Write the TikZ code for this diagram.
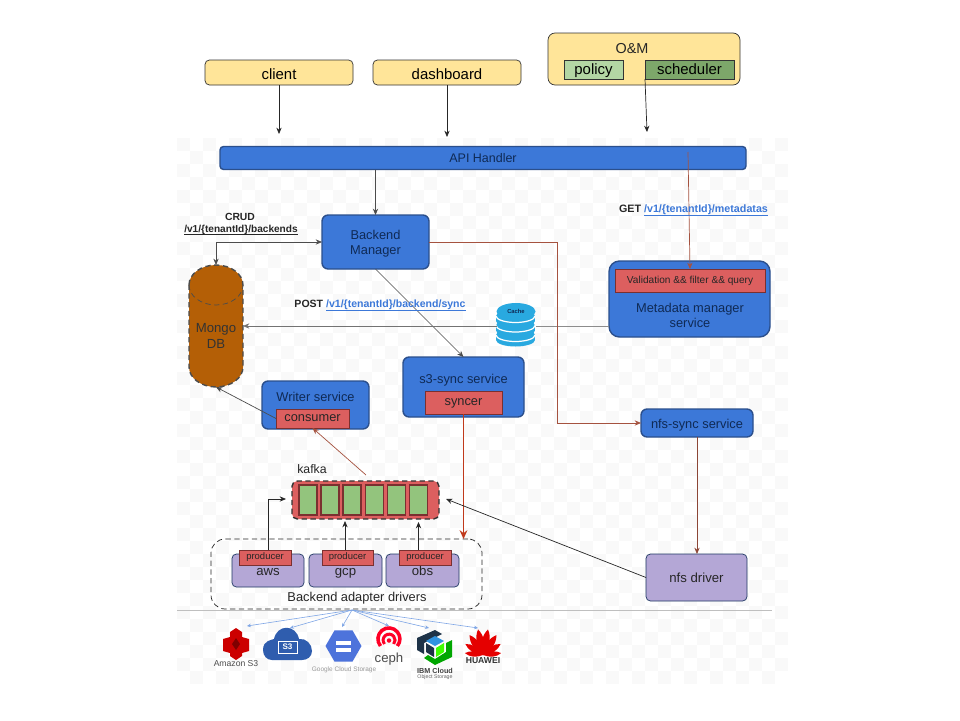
\documentclass[tikz,border=0pt]{standalone}
\usepackage{fontspec}
\setmainfont{Liberation Sans}
\usepackage{tikz}
\usetikzlibrary{calc,arrows.meta,shapes.geometric}
\definecolor{sv-blue}{HTML}{3C78D8}
\definecolor{sv-line}{HTML}{2B4F8C}
\definecolor{sv-ink}{HTML}{0F2A55}
\definecolor{sv-red}{HTML}{DC5F5F}
\definecolor{sv-redline}{HTML}{7A3030}
\definecolor{sv-flow}{HTML}{A5523F}
\definecolor{sv-thick}{HTML}{C0391B}
\definecolor{sv-purple}{HTML}{B4A7D6}
\definecolor{sv-yellow}{HTML}{FFE599}
\definecolor{sv-green}{HTML}{93C47D}
\definecolor{sv-brown}{HTML}{B45F06}
\definecolor{sv-link}{HTML}{3C78D8}
\definecolor{sv-sky}{HTML}{29A9E0}
\definecolor{sv-cloud}{HTML}{2F5DAE}
\definecolor{sv-gcs}{HTML}{4D73DB}
\definecolor{sv-ibm}{HTML}{1E3348}
\newcommand{\pxfont}[1]{\fontsize{#1}{8.6}\selectfont}
\newcommand{\apilink}[1]{\textcolor{sv-link}{\underline{\smash{#1}}}}
\tikzset{
  sz/.style 2 args={minimum width=#1*0.02cm, minimum height=#2*0.02cm, inner sep=0pt, outer sep=0pt},
  bluebox/.style={draw=sv-line, fill=sv-blue, thick, rounded corners=3.5pt, text=sv-ink, align=center, font=\pxfont{7.3}},
  redbox/.style={draw=sv-redline, fill=sv-red, line width=.55pt, text=black!85, font=\pxfont{7.3}, text height=3.8pt, text depth=0pt},
  purplebox/.style={draw=sv-line!70!black, fill=sv-purple, rounded corners=2.5pt, text=black!85, font=\pxfont{7.5}},
  topbox/.style={draw=black!80, fill=sv-yellow, rounded corners=2.5pt, font=\pxfont{8.5}, text height=7.4pt, text depth=0pt},
  cell/.style={draw=sv-redline, fill=sv-green, line width=.6pt},
  lbl/.style={inner sep=0pt, text=black!85, align=center, font=\pxfont{7.3}},
  arr/.style={-{Stealth[length=3.6pt,width=3pt]}},
  flow/.style={arr, draw=black!70},
  redflow/.style={arr, draw=sv-flow},
  logoflow/.style={-{Stealth[length=2.2pt,width=2pt]}, draw=sv-link!65, line width=.35pt},
}

\begin{document}
\begin{tikzpicture}[x=0.02cm,y=-0.02cm]
    \path[use as bounding box, fill=white] (0,0) rectangle (960,720);
    % checker backdrop
    \foreach \i in {0,...,46}
      \foreach \j in {0,...,41} {
        \pgfmathtruncatemacro{\k}{mod(\i+\j,2)}
        \ifnum\k=0
          \fill[black!2.5] (177+13*\i,138+13*\j) rectangle (190+13*\i,151+13*\j);
        \fi
      }
    \draw[black!25] (177,610) -- (772,610);

    % top row
    \node[topbox, sz={148}{25}] (client) at (279,72.5) {client};
    \node[topbox, sz={148}{25}] (dashboard) at (447,72.5) {dashboard};
    \node[topbox, sz={192}{52}, rounded corners=4pt] (om) at (644,59) {};
    \node[lbl, font=\pxfont{8.2}] (omlabel) at (632,49) {O\&M};
    \node[topbox, sz={59}{19}, rounded corners=0pt, fill=sv-green!70, text height=6.2pt] (policy) at (593.5,69.5) {policy};
    \node[topbox, sz={89}{19}, rounded corners=0pt, fill=sv-green!85!black, text height=6.2pt] (scheduler) at (689.5,69.5) {scheduler};
    \coordinate (clientend) at (279,134);
    \coordinate (dashboardend) at (447,137);
    \coordinate (schedulerend) at (647,132);

    % services
    \node[bluebox, sz={526}{23}, rounded corners=2pt, font=\pxfont{7.1}] (api) at (483,158) {API Handler};
    \node[bluebox, sz={107}{54}] (backend) at (375.5,242) {};
    \node[lbl, text=sv-ink] (backendlabel) at (375.5,243.5) {Backend\\Manager};
    \filldraw[draw=black!70, densely dashed, thick, fill=sv-brown] (189,285) arc[start angle=180,end angle=0,x radius=.54cm,y radius=.4cm]
      -- (243,367) arc[start angle=0,end angle=-180,x radius=.54cm,y radius=.4cm] -- cycle;
    \draw[black!70, densely dashed] (189,285) arc[start angle=180,end angle=360,x radius=.54cm,y radius=.4cm];
    \node[sz={54}{122}, lbl, text=black!80, font=\pxfont{7.5}] (mongo) at (216,326) {};
    \node[lbl, text=black!80, font=\pxfont{7.5}] (mongolabel) at (216,336) {Mongo\\DB};
    \node[bluebox, sz={107}{48}] (writer) at (315.5,405) {};
    \node[lbl, text=sv-ink] (writerlabel) at (315.5,397) {Writer service};
    \node[redbox, sz={73}{19}] (consumer) at (312.5,418.5) {consumer};
    \node[bluebox, sz={121}{60}] (s3sync) at (463.5,387) {};
    \node[lbl, text=sv-ink] (s3label) at (463.5,380.5) {s3-sync service};
    \node[redbox, sz={77}{23}] (syncer) at (463.5,402.5) {syncer};
    \node[bluebox, sz={161}{76}, rounded corners=6pt] (metadata) at (689.5,299) {};
    \node[redbox, sz={150}{23}, font=\pxfont{5.75}, text height=3pt] (validation) at (690,280.5) {Validation \&\& filter \&\& query};
    \node[lbl, text=sv-ink] (metalabel) at (690,315) {Metadata manager\\service};
    \node[bluebox, sz={112}{28}, text height=6pt, text depth=0pt] (nfssync) at (697,423) {nfs-sync service};
    \node[purplebox, sz={101}{47}] (nfsdriver) at (696.5,577.5) {nfs driver};

    % cache
    \node[sz={39}{43}] (cache) at (516,326) {};
    \foreach \y in {340,330.5,321} {
      \fill[sv-sky] (496,\y) arc[start angle=180,end angle=360,x radius=.39cm,y radius=.13cm] -- ++(0,-5)
        arc[start angle=0,end angle=180,x radius=.39cm,y radius=.13cm] -- cycle;
      \draw[white, line width=.7pt] (496,\y-5) arc[start angle=180,end angle=360,x radius=.39cm,y radius=.13cm];
    }
    \fill[sv-sky] (516,311.5) ellipse[x radius=.39cm,y radius=.17cm];
    \node[lbl, text=sv-ink, font=\pxfont{3.3}\bfseries] (cachelabel) at (516,311) {Cache};

    % kafka
    \node[draw=black!80, densely dashed, thick, fill=sv-red, rounded corners=3pt, sz={147}{38}] (kafka) at (365.5,500) {};
    \foreach \x [count=\n] in {308,330,352,374.5,396.5,418.5}
      \node[cell, sz={18}{30}] (cell\n) at (\x,500) {};
    \node[lbl, font=\pxfont{7}] (kafkalabel) at (312,469) {kafka};
    \coordinate (kafkatop) at (366,475);
    \coordinate (kafkaleft) at (286,499);
    \coordinate (kafkaright) at (446,499);

    % drivers
    \node[draw=black!85, densely dashed, rounded corners=8pt, sz={271}{70}] (drivers) at (346.5,574) {};
    \node[lbl, font=\pxfont{7.3}] (driverslabel) at (357,598) {Backend adapter drivers};
    \node[purplebox, sz={72}{33}] (aws) at (268,570.5) {};
    \node[purplebox, sz={73}{33}] (gcp) at (345.5,570.5) {};
    \node[purplebox, sz={73}{33}] (obs) at (422.5,570.5) {};
    \node[lbl, anchor=base, font=\pxfont{7.5}] (awslabel) at (268,575.5) {aws};
    \node[lbl, anchor=base, font=\pxfont{7.5}] (gcplabel) at (345.5,575.5) {gcp};
    \node[lbl, anchor=base, font=\pxfont{7.5}] (obslabel) at (422.5,575.5) {obs};
    \node[redbox, sz={52}{15}, font=\pxfont{5.4}, text height=2.8pt] (prodaws) at (265,557.5) {producer};
    \node[redbox, sz={51}{15}, font=\pxfont{5.4}, text height=2.8pt] (prodgcp) at (347.5,557.5) {producer};
    \node[redbox, sz={52}{15}, font=\pxfont{5.4}, text height=2.8pt] (prodobs) at (425,557.5) {producer};
    \coordinate (awsup) at (268,550);
    \coordinate (gcpup) at (345,550);
    \coordinate (gcpend) at (345,521);
    \coordinate (obsup) at (418.5,550);
    \coordinate (obsend) at (418.5,522);

    % connectors
    \draw[arr, black!85] (client.south) -- (clientend);
    \draw[arr, black!85] (dashboard.south) -- (dashboardend);
    \draw[arr, black!85] (scheduler.south west) -- (schedulerend);
    \draw[flow] (backend.north |- api.south) -- (backend.north);
    \draw[{Stealth[length=3.6pt,width=3pt]}-{Stealth[length=3.6pt,width=3pt]}, black!70] (backend.west) -| (mongo.north);
    \draw[flow] (backend.south) -- (s3sync.north);
    \draw[draw=black!45] (metadata.west |- cache.east) -- (cache.east);
    \draw[flow, draw=black!55] (cache.west) -- (mongo.east |- cache.west);
    \draw[redflow] (backend.east) -- (557,242) |- (nfssync.west);
    \draw[redflow] (688,152) -- (validation.north);
    \draw[redflow, draw=sv-flow!85!black] (nfssync.south) -- (nfsdriver.north -| nfssync.south);
    \draw[-{Stealth[length=5pt,width=4.4pt]}, draw=sv-thick, line width=1.1pt] (syncer.south) -- (drivers.north -| syncer.south);
    \draw[flow] (consumer.west) -- (mongo.south);
    \draw[redflow] (kafkatop) -- (consumer.south);
    \draw[flow, draw=black!85] (nfsdriver.west) -- (kafkaright);
    \draw[flow, draw=black!85] (awsup) |- (kafkaleft);
    \draw[flow, draw=black!85] (gcpup) -- (gcpend);
    \draw[flow, draw=black!85] (obsup) -- (obsend);

    % labels on the flows
    \node[lbl, font=\pxfont{5.9}\bfseries] (crud) at (240,216.5) {CRUD};
    \node[lbl, font=\pxfont{5.75}\bfseries] (crudpath) at (241,234) {\underline{\smash{/v1/\{tenantId\}/backends}}};
    \node[lbl, font=\pxfont{6}\bfseries] (postpath) at (380,306) {POST \apilink{/v1/\{tenantId\}/backend/sync}};
    \node[lbl, font=\pxfont{6.1}\bfseries] (getpath) at (693.5,210.5) {GET \apilink{/v1/\{tenantId\}/metadatas}};

    % storage logos
    \coordinate (fan) at (352,610);
    \coordinate (fanamazon) at (247,626);
    \coordinate (fancloud) at (290,628);
    \coordinate (fangoogle) at (342,627);
    \coordinate (fanceph) at (389,626);
    \coordinate (fanibm) at (429,628);
    \coordinate (fanhuawei) at (478,628);
    \foreach \t in {amazon,cloud,google,ceph,ibm,huawei}
      \draw[logoflow] (fan) -- (fan\t);

    % amazon
    \fill[red!80!black] (236,628) -- (242,632) -- (242,637) -- (249,639) -- (249,651) -- (242,653) -- (242,656) -- (236,660)
      -- (230,656) -- (230,653) -- (223,651) -- (223,639) -- (230,637) -- (230,632) -- cycle;
    \fill[red!50!black] (236,638) -- (240,644) -- (236,650) -- (232,644) -- cycle;
    \node[lbl, font=\pxfont{4.9}, text=black!70] (amazonlabel) at (236,664) {Amazon S3};

    % s3 cloud
    \fill[sv-cloud] (263,650) .. controls (263,640) and (272,640) .. (274,639)
      .. controls (277,624) and (296,624) .. (299,639) .. controls (306,638) and (312,644) .. (312,651)
      .. controls (312,657) and (307,660) .. (302,660) -- (272,660) .. controls (267,660) and (263,656) .. (263,650) -- cycle;
    \node[draw=white, thin, sz={19}{12}, text=white, font=\pxfont{4.6}\bfseries] (s3chip) at (287.5,647) {S3};

    % google
    \node[regular polygon, regular polygon sides=6, fill=sv-gcs, sz={36}{36}] (googlehex) at (343.5,646) {};
    \fill[white] (336,640.5) rectangle (351,644.5);
    \fill[white] (336,647.5) rectangle (351,651.5);
    \node[lbl, text=black!40, font=\pxfont{3.7}] (googlelabel) at (344,670) {Google Cloud Storage};

    % ceph
    \draw[red!85!magenta, line width=2pt] (380.5,646) arc[start angle=220,end angle=-40,radius=.22cm];
    \draw[red!85!magenta, line width=1.7pt] (384.5,644) arc[start angle=220,end angle=-40,radius=.12cm];
    \fill[red!85!magenta] (389,640.5) circle[radius=.045cm];
    \node[lbl, text=black!70, font=\pxfont{7.5}] (cephlabel) at (389,659) {ceph};

    % ibm
    \fill[sv-ibm] (417,638) -- (435,630) -- (442,634) -- (424,643) -- (424,654) -- (417,650) -- cycle;
    \fill[green!65!black] (452,640) -- (452,657) -- (435,665) -- (424,658) -- (428,655) -- (435,659) -- (446,652) -- (446,643) -- cycle;
    \fill[sv-link!80!cyan] (435,636) -- (444,641) -- (435,646) -- (426,641) -- cycle;
    \fill[sv-ibm] (426,643) -- (434,648) -- (434,657) -- (426,652) -- cycle;
    \fill[green!75!yellow] (444,643) -- (436,648) -- (436,657) -- (444,652) -- cycle;
    \node[lbl, text=black!75, font=\pxfont{4.1}\bfseries] (ibmlabel) at (435,671) {IBM Cloud};
    \node[lbl, text=black!60, font=\pxfont{3}] (ibmsub) at (435,677.5) {Object Storage};

    % huawei
    \foreach \a/\s in {-84/.7,-58/.8,-34/.92,-11/1,11/1,34/.92,58/.8,84/.7}
      \fill[red!90!black, shift={(483,655)}, rotate=\a, scale=\s]
        (0,0) .. controls (-5,-9) and (-5,-19) .. (0,-26) .. controls (5,-19) and (5,-9) .. (0,0) -- cycle;
    \node[lbl, text=black!80, font=\pxfont{4.9}\bfseries] (huaweilabel) at (483,661) {HUAWEI};
\end{tikzpicture}
\end{document}
